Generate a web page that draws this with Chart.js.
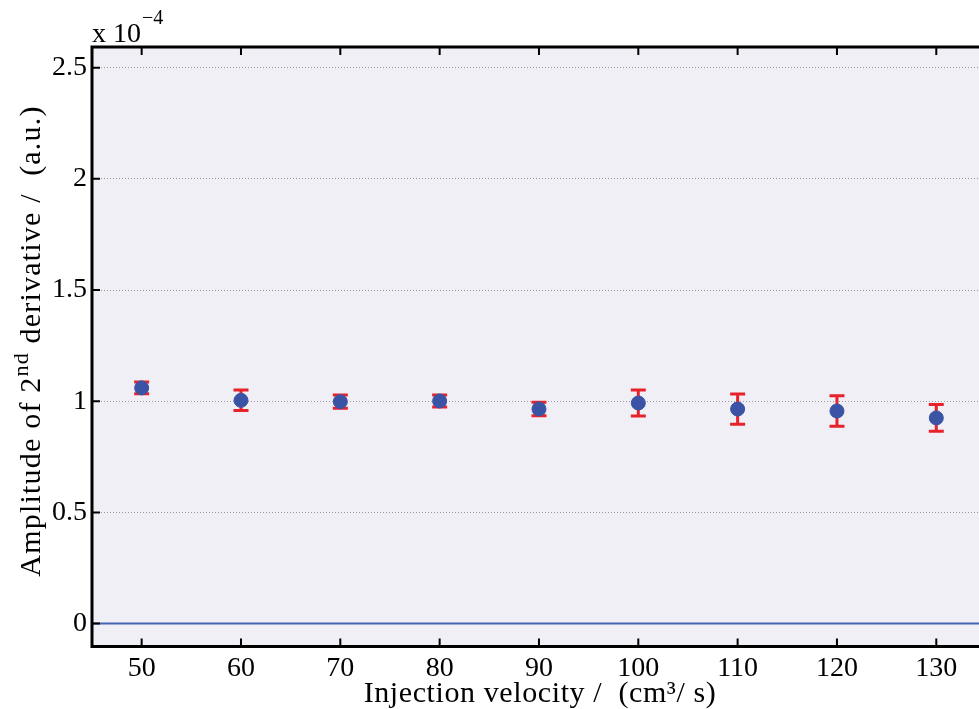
<!DOCTYPE html>
<html>
<head>
<meta charset="utf-8">
<script src="https://cdn.jsdelivr.net/npm/chart.js@4"></script>
<style>
  html, body { margin: 0; padding: 0; background: #fff; overflow: hidden; }
  #wrap { width: 979px; height: 709px; }
</style>
</head>
<body>
<div id="wrap"><canvas id="chart" width="979" height="709"></canvas></div>
<script>
// valeurs (amplitude en unités de 1e-4)
const velocity = [50, 60, 70, 80, 90, 100, 110, 120, 130];
const amplitude = [1.060, 1.004, 0.998, 1.001, 0.965, 0.992, 0.965, 0.956, 0.925];
const errors = [0.026, 0.046, 0.030, 0.027, 0.030, 0.058, 0.068, 0.069, 0.060];
const xTicks = [50, 60, 70, 80, 90, 100, 110, 120, 130];
const yTicks = [0, 0.5, 1, 1.5, 2, 2.5];

const FONT = "'Liberation Serif', 'DejaVu Serif', serif";
const BLUE = '#3a53a4';
const RED = '#e8222b';

// fond, ligne zéro et barres d'erreur, avant les points
const errorBars = {
  id: 'errorBars',
  beforeDraw(chart) {
    const { ctx, chartArea: a } = chart;
    ctx.save();
    ctx.fillStyle = '#f0eff6';
    ctx.fillRect(a.left, a.top, a.right - a.left, a.bottom - a.top);
    ctx.restore();
  },
  beforeDatasetsDraw(chart) {
    const { ctx, chartArea: a, scales: { x, y } } = chart;
    ctx.save();
    // ligne de base à zéro
    ctx.strokeStyle = '#4563b3';
    ctx.lineWidth = 2;
    const y0 = y.getPixelForValue(0);
    ctx.beginPath();
    ctx.moveTo(a.left, y0);
    ctx.lineTo(a.right, y0);
    ctx.stroke();

    ctx.strokeStyle = RED;
    ctx.lineWidth = 3;
    velocity.forEach((v, i) => {
      const px = x.getPixelForValue(v);
      const top = y.getPixelForValue(amplitude[i] + errors[i]);
      const bot = y.getPixelForValue(amplitude[i] - errors[i]);
      ctx.beginPath();
      ctx.moveTo(px, top); ctx.lineTo(px, bot);
      ctx.moveTo(px - 7.5, top); ctx.lineTo(px + 7.5, top);
      ctx.moveTo(px - 7.5, bot); ctx.lineTo(px + 7.5, bot);
      ctx.stroke();
    });
    ctx.restore();
  },
  afterDraw(chart) {
    const { ctx, chartArea: a, scales: { x, y } } = chart;
    ctx.save();
    // cadre (le bord droit est hors image)
    ctx.strokeStyle = '#000';
    ctx.lineWidth = 3;
    ctx.beginPath();
    ctx.moveTo(a.right + 5, a.top);
    ctx.lineTo(a.left, a.top);
    ctx.lineTo(a.left, a.bottom);
    ctx.lineTo(a.right + 5, a.bottom);
    ctx.stroke();

    // graduations intérieures
    ctx.lineWidth = 2;
    ctx.beginPath();
    xTicks.forEach(v => {
      const px = x.getPixelForValue(v);
      ctx.moveTo(px, a.bottom); ctx.lineTo(px, a.bottom - 8);
      ctx.moveTo(px, a.top); ctx.lineTo(px, a.top + 8);
    });
    yTicks.forEach(v => {
      const py = y.getPixelForValue(v);
      ctx.moveTo(a.left, py); ctx.lineTo(a.left + 8, py);
    });
    ctx.stroke();

    // facteur d'échelle
    ctx.fillStyle = '#000';
    ctx.textAlign = 'left';
    ctx.textBaseline = 'alphabetic';
    ctx.font = '28px ' + FONT;
    ctx.fillText('x 10', 92, 42);
    const w10 = ctx.measureText('x 10').width;
    ctx.font = '20px ' + FONT;
    ctx.fillText('\u22124', 92 + w10 + 1, 24);

    // titre axe x
    ctx.font = '30px ' + FONT;
    ctx.letterSpacing = '0.6px';
    ctx.textAlign = 'center';
    ctx.fillText('Injection velocity /  (cm\u00b3/ s)', 540, 702);

    // titre axe y avec exposant
    ctx.letterSpacing = '1.2px';
    const parts = [
      { t: 'Amplitude of 2', size: 30, dy: 0 },
      { t: 'nd', size: 22, dy: -12 },
      { t: ' derivative /  (a.u.)', size: 30, dy: 0 }
    ];
    let total = 0;
    parts.forEach(p => { ctx.font = p.size + 'px ' + FONT; p.w = ctx.measureText(p.t).width; total += p.w; });
    ctx.translate(40, 341);
    ctx.rotate(-Math.PI / 2);
    ctx.textAlign = 'left';
    let cx = -total / 2;
    parts.forEach(p => {
      ctx.font = p.size + 'px ' + FONT;
      ctx.fillText(p.t, cx, p.dy);
      cx += p.w;
    });
    ctx.restore();
  }
};

new Chart(document.getElementById('chart'), {
  type: 'scatter',
  data: {
    datasets: [{
      data: velocity.map((v, i) => ({ x: v, y: amplitude[i] })),
      backgroundColor: BLUE,
      borderColor: BLUE,
      pointRadius: 7,
      pointHoverRadius: 7
    }]
  },
  options: {
    responsive: false,
    animation: false,
    devicePixelRatio: 1,
    layout: { autoPadding: false, padding: { top: 47, right: 0, left: 0, bottom: 0 } },
    plugins: { legend: { display: false }, tooltip: { enabled: false } },
    scales: {
      x: {
        type: 'linear',
        min: 45,
        max: 134.3,
        afterBuildTicks: s => { s.ticks = xTicks.map(v => ({ value: v })); },
        afterFit: s => { s.height = 62.5; s.paddingLeft = 0; s.paddingRight = 0; },
        grid: { display: false, drawTicks: false },
        border: { display: false },
        ticks: { color: '#000', font: { family: FONT, size: 28 }, padding: 5, maxRotation: 0 }
      },
      y: {
        type: 'linear',
        min: -0.103,
        max: 2.593,
        afterBuildTicks: s => { s.ticks = yTicks.map(v => ({ value: v })); },
        afterFit: s => { s.width = 92; s.paddingTop = 0; s.paddingBottom = 0; },
        grid: { color: '#9a9a9a', lineWidth: 1, drawTicks: false },
        border: { display: false, dash: [1, 2] },
        ticks: { color: '#000', font: { family: FONT, size: 28 }, padding: 5, callback: v => String(v) }
      }
    }
  },
  plugins: [errorBars]
});
</script>
</body>
</html>
